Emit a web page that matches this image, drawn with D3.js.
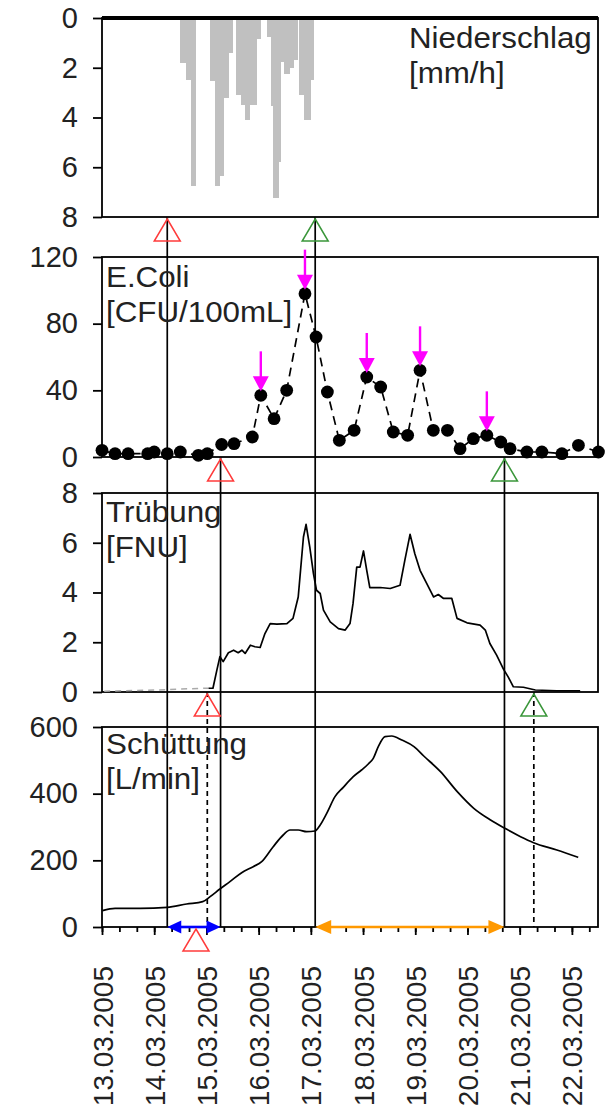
<!DOCTYPE html>
<html>
<head>
<meta charset="utf-8">
<title>Niederschlag, E.Coli, Trübung und Schüttung</title>
<script src="https://d3js.org/d3.v7.min.js"></script>
<style>
body { margin: 0; background: #fff; font-family: 'Liberation Sans', Arial, sans-serif; }
</style>
</head>
<body>
<svg width="610" height="1114" id="chart"></svg>
<script>

  // Zeit in Stunden seit 13.03.2005 00:00
  var niederschlagStart = 36;
  var niederschlag = [
    1.8, 1.8, 1.8, 2.5, 2.5, 6.75, 6.75, 0, 0, 0, 0, 0, 0, 0,
    2.55, 2.55, 6.75, 6.75, 6.35, 6.35, 3.2, 3.2, 1.4, 1.4, 0, 0,
    3.1, 3.1, 3.5, 3.5, 4.1, 4.1, 3.5, 3.5, 3.5, 0.85, 0.85, 0, 0, 0,
    0.75, 0.75, 3.55, 7.25, 7.25, 5.8, 1.75, 1.75, 2.25, 2.25, 2.0, 2.0, 1.7, 1.7, 0,
    3.1, 3.1, 4.1, 4.1, 4.1, 2.5
  ];

  var ecoliStunden = [0, 6, 12, 21, 24, 30, 36, 44.3, 48.4, 55, 60.7, 69.1, 73, 79.1, 84.9,
    93.3, 98.4, 103.6, 109.1, 115.9, 121.7, 128.1, 133.9, 140.5, 146.2, 152.3, 158.8,
    164.6, 170.7, 176.9, 183.3, 187.6, 195.3, 202.2, 211.4, 219, 228.2];
  var ecoliWerte = [4, 2, 2, 2, 3, 2, 3, 1, 2, 7.5, 8, 12, 37, 23, 40,
    98, 72, 39, 10, 16, 48, 42, 15, 13, 52, 16, 16,
    5, 11, 13, 9, 5, 3, 3, 2, 7, 3];
  var ecoliPfeile = [12, 15, 20, 24, 29];

  var truebungStunden = [1, 25, 46.5, 49, 51, 52.8, 54.2, 55.7, 58.1, 60.5, 62.6, 64.3, 65.8,
    68.2, 70.3, 72.7, 74.9, 77.3, 80.4, 85, 87.8, 90.2, 92.6, 93.8, 95.5, 97.2, 98.6,
    100.3, 101.8, 104.9, 108.7, 111.8, 114, 115.4, 117.1, 118.6, 120.2, 121.7, 123.1,
    127.9, 132.5, 137, 139.2, 141.6, 143.8, 146.2, 149.3, 152.4, 154.6, 157, 160.8,
    163.2, 167.8, 173.8, 176.2, 178.3, 181.4, 184.6, 186.7, 189.1, 193.7, 199.2, 209, 219.8];
  var truebungWerte = [0.03, 0.08, 0.15, 0.15, 0.15, 0.88, 1.42, 1.22, 1.58, 1.68, 1.58, 1.68, 1.55,
    1.88, 1.82, 1.79, 2.35, 2.75, 2.73, 2.75, 2.96, 3.82, 6.23, 6.74, 5.83, 4.76, 4.09,
    3.96, 3.29, 2.82, 2.55, 2.49, 2.75, 3.56, 5.02, 5.02, 5.67, 4.89, 4.2,
    4.2, 4.16, 4.29, 5.29, 6.34, 5.56, 4.89, 4.36, 3.82, 3.92, 3.76, 3.76,
    2.96, 2.78, 2.69, 2.49, 1.95, 1.48, 0.91, 0.61, 0.21, 0.19, 0.08, 0.05, 0.05];
  var truebungGrau = 3;

  var schuettungStunden = [0.2, 6, 17.5, 30, 38.9, 46.3, 49.7, 54.2, 58.8, 64.2, 69.5, 73.4,
    78.7, 83.3, 86.4, 90.2, 94.1, 97.9, 100.3, 103.3, 107.1, 110.9, 115.5, 119.3, 122.4,
    124.7, 127, 130.1, 133.2, 137.8, 143.4, 147.9, 155.6, 163.3, 170.9, 178.6, 185.2,
    192.4, 198.4, 209.1, 218.9];
  var schuettungWerte = [49, 56, 56, 59, 69, 76, 91, 114, 136, 163, 181, 196,
    241, 276, 291, 291, 286, 288, 306, 341, 391, 419, 451, 471, 489,
    506, 541, 571, 573, 561, 541, 513, 466, 406, 356, 321, 296,
    271, 253, 231, 209];

  var niederschlagBeginn = 30, niederschlagEnde = 98;
  var ecoliBeginn = 54.5, ecoliEnde = 185;
  var truebungBeginn = 48.4, truebungEnde = 198.5;
  var schuettungBeginn = 43.2;

  var niederschlagTicks = [0, 2, 4, 6, 8];
  var ecoliTicks = [0, 40, 80, 120];
  var truebungTicks = [0, 2, 4, 6, 8];
  var schuettungTicks = [0, 200, 400, 600];

  var schrift = "'Liberation Sans', Arial, sans-serif";
  var rot = "#ff3b3b", gruen = "#3a963a";

  var t0 = new Date(2005, 2, 13, 0, 0);
  function zeit(h) { return new Date(t0.getTime() + h * 3600000); }

  var links = 102, rechts = 598;
  var XScale = d3.scaleTime().domain([zeit(0), zeit(228)]).range([links, rechts]);
  function xh(h) { return XScale(zeit(h)); }

  var yN = d3.scaleLinear().domain([0, 8]).range([18, 217]);
  var yE = d3.scaleLinear().domain([0, 120]).range([457, 257]);
  var yT = d3.scaleLinear().domain([0, 8]).range([692, 493]);
  var yS = d3.scaleLinear().domain([0, 600]).range([927, 727]);

  var svg = d3.select("#chart");

  // Niederschlag als Balken von oben
  svg.append("g")
    .attr("shape-rendering", "crispEdges")
    .selectAll("rect")
    .data(niederschlag)
    .enter().append("rect")
    .attr("x", function (d, i) { return Math.floor(xh(niederschlagStart + i)); })
    .attr("width", function (d, i) {
      return Math.ceil(xh(niederschlagStart + i + 1)) - Math.floor(xh(niederschlagStart + i));
    })
    .attr("y", yN(0))
    .attr("height", function (d) { return yN(d) - yN(0); })
    .attr("fill", "#c0c0c0");

  // Rahmen und y-Achsen
  function panel(scale, ticks) {
    var r = scale.range();
    var oben = Math.min(r[0], r[1]), unten = Math.max(r[0], r[1]);
    svg.append("rect")
      .attr("x", links).attr("y", oben)
      .attr("width", rechts - links).attr("height", unten - oben)
      .attr("fill", "none").attr("stroke", "#000").attr("stroke-width", 1.8);

    var g = svg.append("g")
      .attr("transform", "translate(" + links + ",0)")
      .call(d3.axisLeft(scale).tickValues(ticks).tickSize(9).tickSizeOuter(0).tickPadding(15));
    g.select(".domain").remove();
    g.attr("font-size", 29).attr("font-family", schrift);
    g.selectAll("line").attr("stroke", "#000").attr("stroke-width", 1.8);
    g.selectAll("text").attr("fill", "#222");
  }
  panel(yN, niederschlagTicks);
  panel(yE, ecoliTicks);
  panel(yT, truebungTicks);
  panel(yS, schuettungTicks);

  svg.append("line")
    .attr("x1", links).attr("x2", rechts)
    .attr("y1", yN(0)).attr("y2", yN(0))
    .attr("stroke", "#000").attr("stroke-width", 4);

  // x-Achse
  var xMinor = svg.append("g")
    .attr("transform", "translate(0," + yS(0) + ")")
    .call(d3.axisBottom(XScale).ticks(d3.timeHour.every(8)).tickSize(5).tickSizeOuter(0).tickFormat(""));
  xMinor.select(".domain").remove();
  xMinor.selectAll("line").attr("stroke-width", 1.8);

  var xMajor = svg.append("g")
    .attr("transform", "translate(0," + yS(0) + ")")
    .call(d3.axisBottom(XScale).ticks(d3.timeDay.every(1)).tickSize(8).tickSizeOuter(0)
      .tickFormat(d3.timeFormat("%d.%m.%Y")));
  xMajor.select(".domain").remove();
  xMajor.attr("font-size", 28).attr("font-family", schrift);
  xMajor.selectAll("line").attr("stroke-width", 1.8);
  xMajor.selectAll("text")
    .attr("fill", "#222")
    .attr("transform", "rotate(-90)")
    .attr("text-anchor", "end")
    .attr("x", -39)
    .attr("y", 0)
    .attr("dy", "0.36em");

  // Marker-Linien
  var linien = [
    { h: niederschlagBeginn, y0: yN(8), dash: null },
    { h: niederschlagEnde, y0: yN(8), dash: null },
    { h: ecoliBeginn, y0: yE(0), dash: null },
    { h: ecoliEnde, y0: yE(0), dash: null },
    { h: truebungBeginn, y0: yT(0), dash: "5,4" },
    { h: truebungEnde, y0: yT(0), dash: "5,4" }
  ];
  svg.append("g").selectAll("line")
    .data(linien)
    .enter().append("line")
    .attr("x1", function (d) { return xh(d.h); })
    .attr("x2", function (d) { return xh(d.h); })
    .attr("y1", function (d) { return d.y0; })
    .attr("y2", yS(0))
    .attr("stroke", "#000")
    .attr("stroke-width", 1.7)
    .attr("stroke-dasharray", function (d) { return d.dash; });

  // Trübung
  var truebung = truebungStunden.map(function (h, i) { return { h: h, v: truebungWerte[i] }; });
  var lineT = d3.line()
    .x(function (d) { return xh(d.h); })
    .y(function (d) { return yT(d.v); });
  svg.append("path")
    .attr("d", lineT(truebung.slice(0, truebungGrau + 1)))
    .attr("fill", "none").attr("stroke", "#aaa").attr("stroke-width", 1.5)
    .attr("stroke-dasharray", "6,5");
  svg.append("path")
    .attr("d", lineT(truebung.slice(truebungGrau)))
    .attr("fill", "none").attr("stroke", "#000").attr("stroke-width", 1.7)
    .attr("stroke-linejoin", "round");

  // Schüttung
  var schuettung = schuettungStunden.map(function (h, i) { return { h: h, v: schuettungWerte[i] }; });
  svg.append("path")
    .attr("d", d3.line().curve(d3.curveMonotoneX)
      .x(function (d) { return xh(d.h); })
      .y(function (d) { return yS(d.v); })(schuettung))
    .attr("fill", "none").attr("stroke", "#000").attr("stroke-width", 1.7);

  // E.Coli
  var ecoli = ecoliStunden.map(function (h, i) { return { h: h, v: ecoliWerte[i] }; });
  svg.append("path")
    .attr("d", d3.line()
      .x(function (d) { return xh(d.h); })
      .y(function (d) { return yE(d.v); })(ecoli))
    .attr("fill", "none").attr("stroke", "#000").attr("stroke-width", 1.7)
    .attr("stroke-dasharray", "9,6");
  svg.append("g").selectAll("circle")
    .data(ecoli)
    .enter().append("circle")
    .attr("cx", function (d) { return xh(d.h); })
    .attr("cy", function (d) { return yE(d.v); })
    .attr("r", 6.4)
    .attr("fill", "#000");

  var pfeile = svg.append("g").selectAll("g")
    .data(ecoliPfeile.map(function (i) { return ecoli[i]; }))
    .enter().append("g")
    .attr("transform", function (d) { return "translate(" + xh(d.h) + "," + (yE(d.v) - 4) + ")"; });
  pfeile.append("line")
    .attr("x1", 0).attr("x2", 0).attr("y1", -40).attr("y2", -13)
    .attr("stroke", "#ff00ff").attr("stroke-width", 2.4);
  pfeile.append("path")
    .attr("d", "M-8,-15L8,-15L0,0Z")
    .attr("fill", "#ff00ff");

  // Doppelpfeile an der x-Achse
  function doppelpfeil(h1, h2, farbe, kopf, breite) {
    var a = xh(h1), b = xh(h2), y = yS(0);
    svg.append("line")
      .attr("x1", a + kopf - 1).attr("x2", b - kopf + 1)
      .attr("y1", y).attr("y2", y)
      .attr("stroke", farbe).attr("stroke-width", 2.6);
    svg.append("path")
      .attr("d", "M" + a + "," + y + "L" + (a + kopf) + "," + (y - breite) + "L" + (a + kopf) + "," + (y + breite) + "Z")
      .attr("fill", farbe);
    svg.append("path")
      .attr("d", "M" + b + "," + y + "L" + (b - kopf) + "," + (y - breite) + "L" + (b - kopf) + "," + (y + breite) + "Z")
      .attr("fill", farbe);
  }
  doppelpfeil(niederschlagBeginn, ecoliBeginn, "#0000ff", 14, 6.5);
  doppelpfeil(niederschlagEnde, ecoliEnde, "#ff9900", 16, 7);

  // Dreiecke
  var dreiecke = [
    { h: niederschlagBeginn, y0: yN(8), farbe: rot },
    { h: niederschlagEnde, y0: yN(8), farbe: gruen },
    { h: ecoliBeginn, y0: yE(0), farbe: rot },
    { h: ecoliEnde, y0: yE(0), farbe: gruen },
    { h: truebungBeginn, y0: yT(0), farbe: rot },
    { h: truebungEnde, y0: yT(0), farbe: gruen },
    { h: schuettungBeginn, y0: yS(0), farbe: rot }
  ];
  svg.append("g").selectAll("path")
    .data(dreiecke)
    .enter().append("path")
    .attr("transform", function (d) { return "translate(" + xh(d.h) + "," + (d.y0 + 2) + ")"; })
    .attr("d", "M0,0L13,22L-13,22Z")
    .attr("fill", "none")
    .attr("stroke", function (d) { return d.farbe; })
    .attr("stroke-width", 1.5);

  // Beschriftungen
  var titel = [
    { x: 409, y: yN(0) + 30, zeilen: ["Niederschlag", "[mm/h]"] },
    { x: 106, y: yE(120) + 30, zeilen: ["E.Coli", "[CFU/100mL]"] },
    { x: 106, y: yT(8) + 29, zeilen: ["Trübung", "[FNU]"] },
    { x: 106, y: yS(600) + 27, zeilen: ["Schüttung", "[L/min]"] }
  ];
  titel.forEach(function (t) {
    t.zeilen.forEach(function (z, i) {
      svg.append("text")
        .attr("transform", "translate(" + t.x + "," + (t.y + i * 35) + ") scale(1.08,1)")
        .attr("font-size", 29)
        .attr("font-family", schrift)
        .attr("fill", "#222")
        .text(z);
    });
  });

</script>
</body>
</html>
